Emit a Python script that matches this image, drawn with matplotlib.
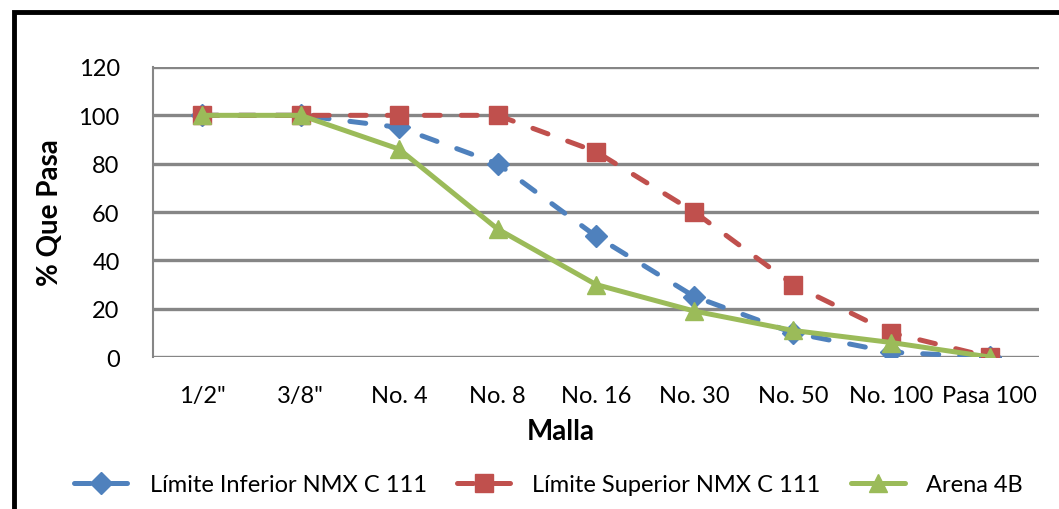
import matplotlib
matplotlib.use("Agg")
import matplotlib.pyplot as plt
from matplotlib.patches import Rectangle

categories = ['1/2"', '3/8"', 'No. 4', 'No. 8', 'No. 16', 'No. 30', 'No. 50', 'No. 100', 'Pasa 100']
limite_inferior = [100, 100, 95, 80, 50, 25, 10, 2, 0]
limite_superior = [100, 100, 100, 100, 85, 60, 30, 10, 0]
arena_4b = [100, 100, 86, 53, 30, 19, 11, 6, 0]
yticks = [0, 20, 40, 60, 80, 100, 120]

plt.rcParams['font.family'] = ['Lato', 'DejaVu Sans']

fig = plt.figure(figsize=(10.59, 5.10), dpi=100)
ax = fig.add_axes([0.1445, 0.298, 0.8365, 0.5687])

x = [i + 0.5 for i in range(len(categories))]
lw = 3.6
ax.plot(x, limite_inferior, color='#4F81BD', lw=lw, dashes=(3.2, 4.2), marker='D', ms=11,
        label='Límite Inferior NMX C 111', zorder=3, dash_capstyle='round')
ax.plot(x, limite_superior, color='#C0504D', lw=lw, dashes=(3.2, 4.2), marker='s', ms=12.5,
        label='Límite Superior NMX C 111', zorder=4, dash_capstyle='round')
ax.plot(x, arena_4b, color='#9BBB59', lw=lw, marker='^', ms=13.5,
        label='Arena 4B', zorder=5, solid_capstyle='round')

ax.set_xlim(0, 9)
ax.set_ylim(0, 120)
ax.set_yticks(yticks)
ax.set_xticks(x)
ax.set_xticklabels(categories)
ax.tick_params(axis='both', length=0, labelsize=17, colors='black')
ax.tick_params(axis='x', pad=20)
ax.tick_params(axis='y', pad=24)
ax.grid(axis='y', color='#868686', lw=2.4, zorder=0)
ax.set_axisbelow(True)
for s in ['top', 'right', 'bottom']:
    ax.spines[s].set_visible(False)
ax.spines['left'].set_color('#868686')
ax.spines['left'].set_linewidth(1.5)

ax.set_ylabel('% Que Pasa', fontsize=20, fontweight='bold')
ax.yaxis.set_label_coords((50 - 153) / 886, 0.5)
ax.set_xlabel('Malla', fontsize=20, fontweight='bold')
ax.xaxis.set_label_coords((561 - 153) / 886, -(432 - 358) / 290)
ax.xaxis.label.set_va('center')
ax.yaxis.label.set_va('center')

fig.legend(loc='center', bbox_to_anchor=(0.518, 0.048), ncol=3, frameon=False,
           fontsize=17, handlelength=2.3, columnspacing=1.27, numpoints=1, handletextpad=0.9)

fig.patches.append(Rectangle((0.0135, -0.05), 1.1, 1.0245, transform=fig.transFigure,
                             fill=False, edgecolor='black', lw=3.5, zorder=10))

fig.savefig('out.png', dpi=100)
